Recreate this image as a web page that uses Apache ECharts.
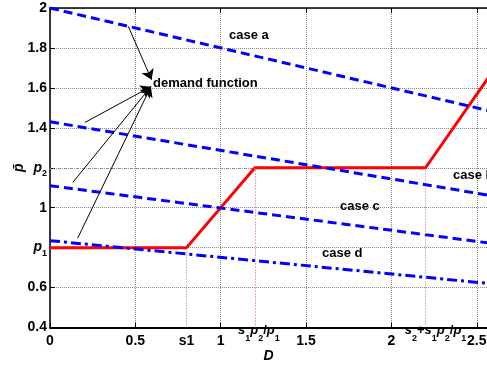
<!DOCTYPE html>
<html>
<head>
<meta charset="utf-8">
<script src="https://cdn.jsdelivr.net/npm/echarts@6/dist/echarts.min.js"></script>
<style>html,body{margin:0;padding:0;background:#fff}#c{width:487px;height:365px}</style>
</head>
<body>
<div id="c"></div>
<script>
// ---- data ----
const priceCurve = [[0, 0.8], [0.8, 0.8], [1.2, 1.2], [2.2, 1.2], [2.6, 1.69]];
const caseA = [[0, 2.0], [2.6, 1.48]];
const caseB = [[0, 1.43], [2.6, 1.058]];
const caseC = [[0, 1.11], [2.6, 0.82]];
const caseD = [[0, 0.835], [2.6, 0.618]];
const xLabelValues = [0, 0.5, 0.8, 1, 1.2, 1.5, 2, 2.2, 2.5];
const xLabelTexts = ['{n|0}', '{n|0.5}', '{n|s1}', '{n|1}',
  '{pa| }{i|s}{s|1}{i|p}{s|2}{m|/}{i|p}{s|1}', '{n|1.5}', '{n|2}',
  '{pb| }{i|s}{s|2}{m|+}{i|s}{s|1}{i|p}{s|2}{m|/}{i|p}{s|1}', '{n|2.5}'];
const yLabelValues = [0.4, 0.6, 0.8, 1.0, 1.2, 1.4, 1.6, 1.8, 2.0];
const yLabelTexts = ['{n|0.4}', '{n|0.6}', '{i|p}{s|1}', '{n|1}', '{i|p}{s|2}', '{n|1.4}', '{n|1.6}', '{n|1.8}', '{n|2}'];
const arrowStarts = [[0.458, 1.909], [0.205, 1.427], [0.133, 1.126], [0.162, 0.847]];
const arrowEnds = [[0.595, 1.641], [0.591, 1.606], [0.591, 1.606], [0.591, 1.606]];
const refLines = [
  [[0.8, 0.4], [0.8, 0.8], '#8a70b0'],
  [[1.2, 0.4], [1.2, 1.2], '#e04a6a'],
  [[2.2, 0.4], [2.2, 1.2], '#8a70b0'],
  [[0, 1.2], [1.2, 1.2], '#a890a0']
];
const caseLabels = [
  ['case a', 229, 37], ['demand function', 153, 85], ['case b', 453, 177],
  ['case c', 340, 208], ['case d', 322, 255]
];

const FF = '"Liberation Sans", Arial, Helvetica, sans-serif';
const base = {fontWeight: 'bold', fontFamily: FF, color: '#000'};
const xRich = {
  n: Object.assign({fontSize: 14, lineHeight: 35}, base),
  i: Object.assign({fontSize: 13, fontStyle: 'italic', lineHeight: 5, verticalAlign: 'top'}, base),
  m: Object.assign({fontSize: 13, lineHeight: 5, verticalAlign: 'top'}, base),
  s: Object.assign({fontSize: 9, lineHeight: 20, verticalAlign: 'bottom'}, base),
  pa: Object.assign({fontSize: 9, width: 8, lineHeight: 5, verticalAlign: 'top'}, base),
  pb: Object.assign({fontSize: 9, width: 20, lineHeight: 5, verticalAlign: 'top'}, base)
};
const yRich = {
  n: Object.assign({fontSize: 14, lineHeight: 22}, base),
  i: Object.assign({fontSize: 14, fontStyle: 'italic', lineHeight: 20, verticalAlign: 'middle'}, base),
  s: Object.assign({fontSize: 9, lineHeight: 10, verticalAlign: 'bottom'}, base)
};
function lookup(vals, texts, v) {
  for (let k = 0; k < vals.length; k++) if (Math.abs(vals[k] - v) < 1e-6) return texts[k];
  return '';
}

const chart = echarts.init(document.getElementById('c'), null, {renderer: 'canvas'});
chart.setOption({
  animation: false,
  backgroundColor: '#fff',
  grid: {left: 50, right: 0, top: 8, bottom: 37.5, containLabel: false, outerBoundsMode: 'none'},
  xAxis: [
    {type: 'value', min: 0, max: 2.56, interval: 0.5, position: 'bottom',
     name: 'D', nameLocation: 'middle', nameGap: 22,
     nameTextStyle: {fontSize: 14, fontWeight: 'bold', fontStyle: 'italic', fontFamily: FF, color: '#000'},
     axisLine: {show: true, onZero: false, lineStyle: {color: '#000', width: 2}},
     axisTick: {show: true, inside: true, length: 5, lineStyle: {color: '#000', width: 1}},
     axisLabel: {show: false},
     splitLine: {show: true, lineStyle: {color: '#888', width: 1, type: 'dotted'}}},
    {type: 'value', min: 0, max: 2.56, interval: 0.1, position: 'bottom',
     axisLine: {show: false}, axisTick: {show: false}, splitLine: {show: false},
     axisLabel: {show: true, margin: -4, showMinLabel: true, showMaxLabel: true, rich: xRich,
       formatter: v => lookup(xLabelValues, xLabelTexts, v)}},
    {type: 'value', min: 0, max: 2.56, interval: 0.5, position: 'top',
     axisLine: {show: true, onZero: false, lineStyle: {color: '#000', width: 1.5}},
     axisTick: {show: true, inside: true, length: 5, lineStyle: {color: '#000', width: 1}},
     axisLabel: {show: false}, splitLine: {show: false}}
  ],
  yAxis: [
    {type: 'value', min: 0.4, max: 2, interval: 0.2,
     name: 'p\u0304', nameLocation: 'middle', nameGap: 24, nameMoveOverlap: false,
     nameTextStyle: {fontSize: 14, fontWeight: 'bold', fontStyle: 'italic', fontFamily: FF, color: '#000'},
     axisLine: {show: true, onZero: false, lineStyle: {color: '#000', width: 1.5}},
     axisTick: {show: true, inside: true, length: 5, lineStyle: {color: '#000', width: 1}},
     axisLabel: {show: true, margin: 3, rich: yRich, showMinLabel: true, showMaxLabel: true,
       formatter: v => lookup(yLabelValues, yLabelTexts, v)},
     splitLine: {show: true, lineStyle: {color: '#888', width: 1, type: 'dotted'}}}
  ],
  series: [
    {type: 'line', data: [], xAxisIndex: 0, silent: true,
     markLine: {silent: true, symbol: ['none', 'none'], label: {show: false},
       data: refLines.map(r => [{coord: r[0], lineStyle: {color: r[2], width: 1, type: [1, 2]}}, {coord: r[1]}])}},
    {type: 'line', data: priceCurve, xAxisIndex: 0, showSymbol: false, symbol: 'none',
     lineStyle: {color: '#ff0000', width: 3}, z: 3},
    {type: 'line', data: caseA, showSymbol: false, symbol: 'none', lineStyle: {color: '#0000ff', width: 3, type: [9, 5]}, z: 4},
    {type: 'line', data: caseB, showSymbol: false, symbol: 'none', lineStyle: {color: '#0000ff', width: 3, type: [9, 5]}, z: 4},
    {type: 'line', data: caseC, showSymbol: false, symbol: 'none', lineStyle: {color: '#0000ff', width: 3, type: [9, 5]}, z: 4},
    {type: 'line', data: caseD, showSymbol: false, symbol: 'none', lineStyle: {color: '#0000ff', width: 3, type: [10, 4, 3, 4]}, z: 4},
    {type: 'line', data: [], silent: true, z: 5,
     markLine: {silent: true, symbol: ['none', 'arrow'], symbolSize: 10, label: {show: false},
       lineStyle: {color: '#000', width: 1, type: 'solid'},
       data: arrowStarts.map((s, k) => [{coord: s}, {coord: arrowEnds[k]}])}}
  ],
  graphic: caseLabels.map(c => ({
    type: 'text', left: c[1], top: c[2] - 8, z: 10,
    style: {text: c[0], fontSize: 13, fontWeight: 'bold', fontFamily: FF, fill: '#000'}
  }))
});
</script>
</body>
</html>
